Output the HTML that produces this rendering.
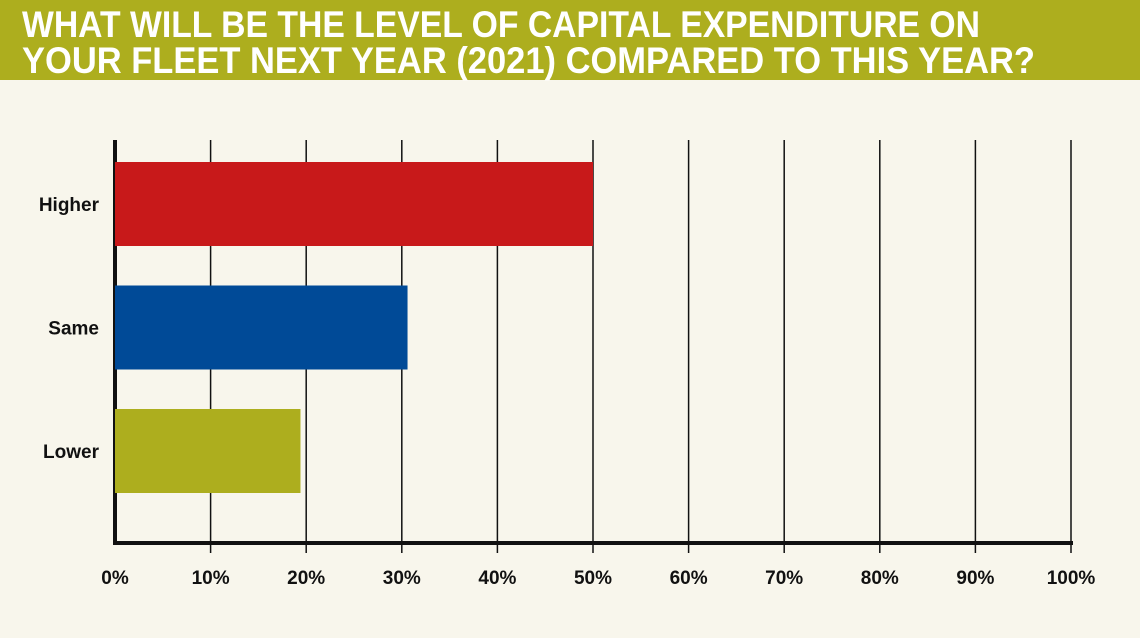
<!DOCTYPE html>
<html><head><meta charset="utf-8"><style>
html,body{margin:0;padding:0;background:#f8f6ec;}
svg{display:block;}
</style></head><body>
<svg width="1140" height="638" viewBox="0 0 1140 638" xmlns="http://www.w3.org/2000/svg">
<rect x="0" y="0" width="1140" height="638" fill="#f8f6ec"/>
<rect x="0" y="0" width="1140" height="80" fill="#adae1e"/>
<text x="22" y="37" font-family="Liberation Sans, sans-serif" font-weight="bold" font-size="37" fill="#fff" textLength="958" lengthAdjust="spacingAndGlyphs">WHAT WILL BE THE LEVEL OF CAPITAL EXPENDITURE ON</text>
<text x="22" y="73" font-family="Liberation Sans, sans-serif" font-weight="bold" font-size="37" fill="#fff" textLength="1013" lengthAdjust="spacingAndGlyphs">YOUR FLEET NEXT YEAR (2021) COMPARED TO THIS YEAR?</text>
<g id="plot"></g>
</svg>
<script>
const categories = ["Higher", "Same", "Lower"];
const values = [50, 30.6, 19.4];
const colors = ["#c8191a", "#004a97", "#adae1e"];
const ticks = [0,10,20,30,40,50,60,70,80,90,100];
const tickLabels = ["0%","10%","20%","30%","40%","50%","60%","70%","80%","90%","100%"];

const NS = "http://www.w3.org/2000/svg";
const g = document.getElementById('plot');
const x0 = 115, x1 = 1071, yTop = 140, yBase = 543;
const xs = v => x0 + (v/100)*(x1-x0);
const barTop = [162, 285, 409], barH = 84;
function mk(tag, attrs){const e=document.createElementNS(NS,tag);for(const k in attrs)e.setAttribute(k,attrs[k]);g.appendChild(e);return e;}

ticks.forEach((t,i)=>{
  if(i>0){
    const l = mk('line',{x1:xs(t),x2:xs(t),y1:yTop,y2:553,stroke:'#111','stroke-width':1.5});
    
    
  } else {
    const l = mk('line',{x1:xs(t),x2:xs(t),y1:yTop,y2:yBase+2,stroke:'#111','stroke-width':4});
    
    
  }
  const tx = mk('text',{x:xs(t),y:584,'text-anchor':'middle','font-family':'Liberation Sans, sans-serif','font-weight':'bold','font-size':19,fill:'#111'});
  tx.textContent = tickLabels[i];
  
  
});

categories.forEach((c,i)=>{
  const yb = barTop[0] + i*(barTop[2]-barTop[0])/2;
  const r = mk('rect',{x:x0,y:yb,width:xs(values[i])-x0,height:barH,fill:colors[i]});
  
  
  const t = mk('text',{x:99,y:yb+barH/2+7,'text-anchor':'end','font-family':'Liberation Sans, sans-serif','font-weight':'bold','font-size':19,fill:'#111'});
  t.textContent = c;
  
  
});

const ax = mk('line',{x1:x0-2,x2:x1+2,y1:yBase,y2:yBase,stroke:'#111','stroke-width':4});


</script>
</body></html>
